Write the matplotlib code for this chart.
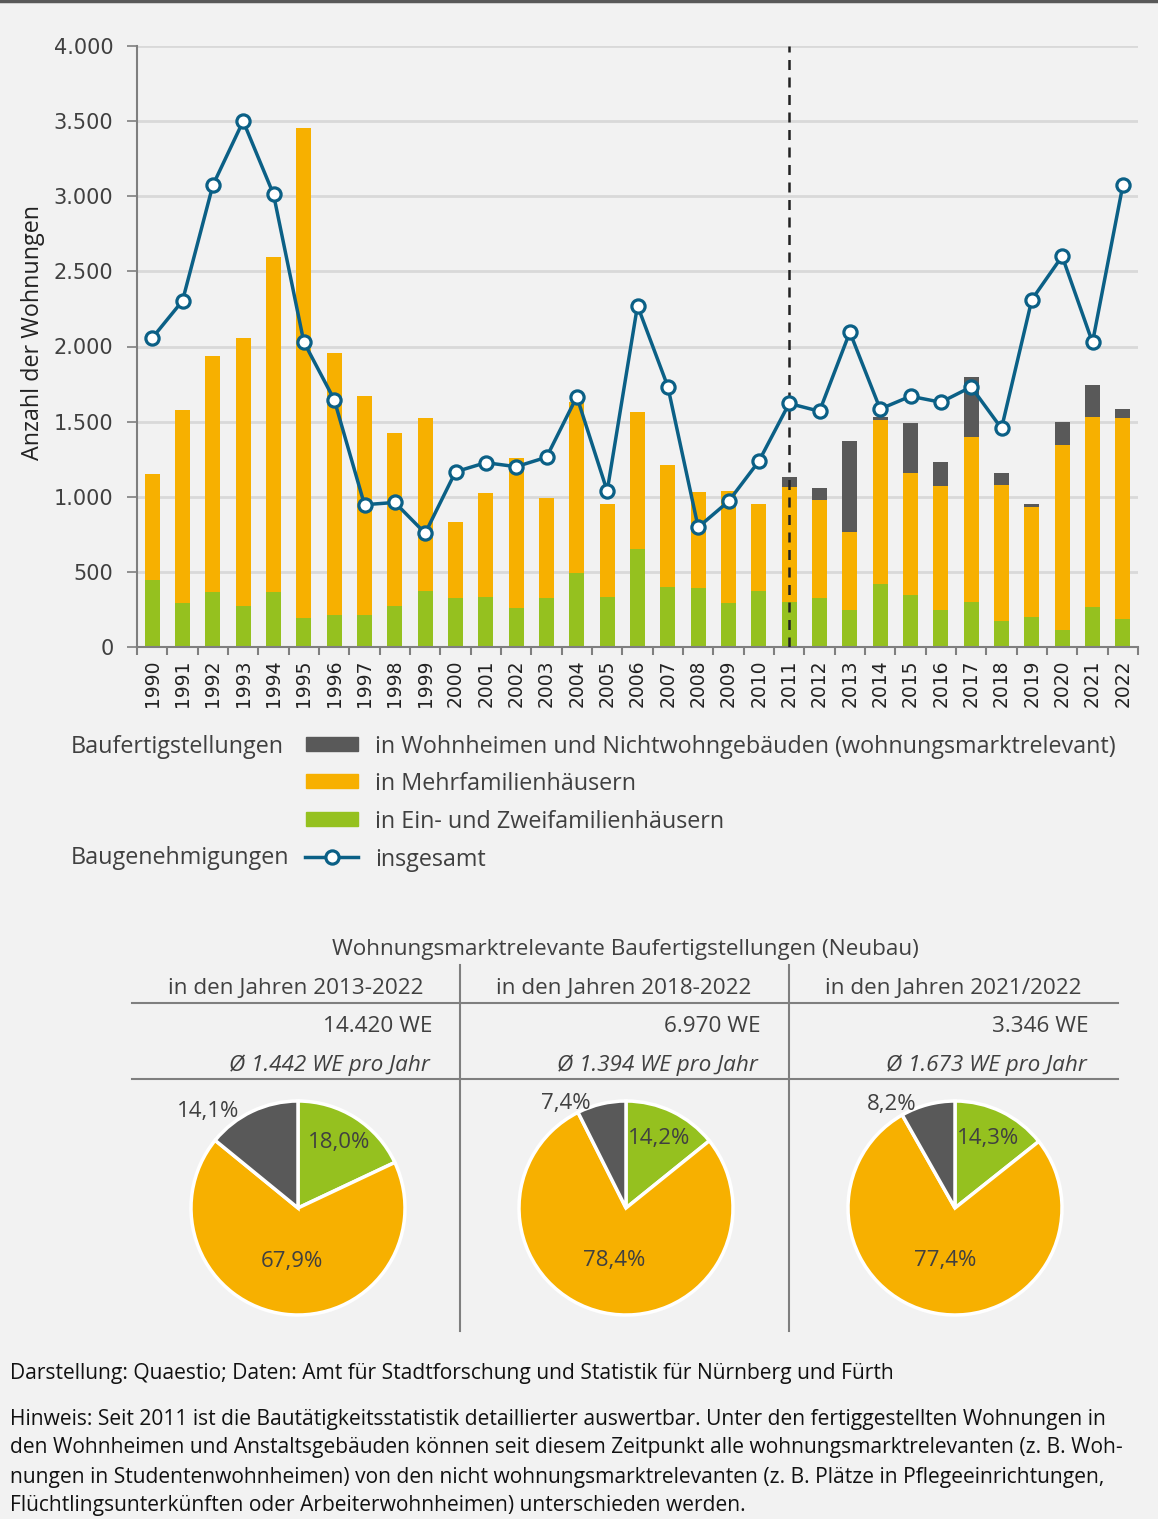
import matplotlib.pyplot as plt
from matplotlib.patches import Rectangle
from matplotlib.lines import Line2D
import numpy as np

plt.rcParams['font.family'] = ['Open Sans', 'DejaVu Sans']

# Daten
years = list(range(1990, 2023))
ein_zwei = [445, 290, 367, 271, 367, 195, 214, 214, 271, 376, 326, 336, 258, 327, 490, 336,
            655, 399, 390, 294, 372, 300, 325, 243, 421, 345, 243, 300, 171, 198, 113, 267, 189]
mehrfam = [707, 1290, 1570, 1788, 2227, 3256, 1742, 1457, 1155, 1145, 507, 686, 1002, 668, 1140, 617,
           906, 812, 641, 744, 581, 764, 652, 522, 1090, 812, 829, 1097, 910, 737, 1231, 1266, 1333]
wohnheime = [0] * 21 + [69, 78, 603, 22, 332, 161, 401, 74, 17, 153, 214, 62]
genehmigungen = [2056, 2304, 3073, 3500, 3013, 2030, 1647, 947, 962, 757, 1166, 1227, 1200, 1263, 1666, 1038,
                 2272, 1733, 797, 969, 1236, 1621, 1569, 2096, 1584, 1669, 1629, 1731, 1455, 2312, 2601, 2027, 3073]

legend_labels = ['in Wohnheimen und Nichtwohngebäuden (wohnungsmarktrelevant)',
                 'in Mehrfamilienhäusern', 'in Ein- und Zweifamilienhäusern', 'insgesamt']

pie_headers = ['in den Jahren 2013-2022', 'in den Jahren 2018-2022', 'in den Jahren 2021/2022']
pie_totals = ['14.420 WE', '6.970 WE', '3.346 WE']
pie_avgs = ['Ø 1.442 WE pro Jahr', 'Ø 1.394 WE pro Jahr', 'Ø 1.673 WE pro Jahr']
pie_green = [18.0, 14.2, 14.3]
pie_orange = [67.9, 78.4, 77.4]
pie_dark = [14.1, 7.4, 8.2]

footer = ['Darstellung: Quaestio; Daten: Amt für Stadtforschung und Statistik für Nürnberg und Fürth',
          'Hinweis: Seit 2011 ist die Bautätigkeitsstatistik detaillierter auswertbar. Unter den fertiggestellten Wohnungen in',
          'den Wohnheimen und Anstaltsgebäuden können seit diesem Zeitpunkt alle wohnungsmarktrelevanten (z. B. Woh-',
          'nungen in Studentenwohnheimen) von den nicht wohnungsmarktrelevanten (z. B. Plätze in Pflegeeinrichtungen,',
          'Flüchtlingsunterkünften oder Arbeiterwohnheimen) unterschieden werden.']

GREEN = '#95c11f'
ORANGE = '#f7b000'
DARK = '#595959'
BLUE = '#0b6086'
BG = '#f2f2f2'
TXT = '#404040'

W, H = 1158, 1519


def fx(px):
    return px / W


def fy(py):
    return 1 - py / H


fig = plt.figure(figsize=(W / 100, H / 100), dpi=100, facecolor=BG)
fig.add_artist(Line2D([0, 1], [fy(1), fy(1)], color=DARK, lw=2.5, transform=fig.transFigure))

# Hauptdiagramm
ax = fig.add_axes([fx(137), fy(647), fx(1138) - fx(137), fy(46) - fy(647)])
ax.set_facecolor(BG)
bottom2 = np.array(ein_zwei) + np.array(mehrfam)
ax.bar(years, ein_zwei, width=0.5, color=GREEN, zorder=2)
ax.bar(years, mehrfam, width=0.5, bottom=ein_zwei, color=ORANGE, zorder=2)
ax.bar(years, wohnheime, width=0.5, bottom=bottom2, color=DARK, zorder=2)
ax.axvline(2011, color='#222222', lw=1.8, ls=(0, (4, 3)), zorder=3)
ax.plot(years, genehmigungen, color=BLUE, lw=2.5, marker='o', markersize=9.5,
        markerfacecolor='white', markeredgecolor=BLUE, markeredgewidth=2.3, zorder=4)

ax.set_xlim(1989.5, 2022.5)
ax.set_ylim(0, 4000)
ax.set_yticks(range(0, 4001, 500))
ax.set_yticklabels([f'{v:,}'.replace(',', '.') for v in range(0, 4001, 500)],
                   fontsize=15, color=TXT, family='DejaVu Sans')
ax.set_xticks(years)
ax.set_xticklabels([str(y) for y in years], rotation=90, fontsize=13.5, color='#222222', family='DejaVu Sans')
ax.set_xticks(np.arange(1989.5, 2023, 1), minor=True)
ax.tick_params(axis='x', which='major', length=0, pad=9)
ax.tick_params(axis='x', which='minor', length=6, width=1.5, color='#7f7f7f')
ax.tick_params(axis='y', length=7, width=1.2, color='#7f7f7f', pad=10)
ax.grid(axis='y', color='#d9d9d9', lw=2, zorder=0)
ax.set_axisbelow(True)
for s in ['top', 'right']:
    ax.spines[s].set_visible(False)
for s in ['left', 'bottom']:
    ax.spines[s].set_color('#7f7f7f')
    ax.spines[s].set_linewidth(1.5)
ax.set_ylabel('Anzahl der Wohnungen', fontsize=16.8, color='#222222', va='center')
ax.yaxis.set_label_coords(-0.104, 0.524)

# Legende
fs_leg = 16.8
rows = [747, 784, 822, 860]
fig.text(fx(71), fy(rows[0]), 'Baufertigstellungen', fontsize=fs_leg, color=TXT, va='center')
fig.text(fx(71), fy(rows[3] - 2), 'Baugenehmigungen', fontsize=fs_leg, color=TXT, va='center')
for i, c in enumerate([DARK, ORANGE, GREEN]):
    yc = [744, 781, 819][i]
    fig.add_artist(Rectangle((fx(306), fy(yc + 7)), fx(358) - fx(306), fy(yc - 7) - fy(yc + 7),
                             color=c, transform=fig.transFigure))
fig.add_artist(Line2D([fx(305), fx(358)], [fy(857), fy(857)], color=BLUE, lw=2.5,
                      transform=fig.transFigure))
fig.add_artist(Line2D([fx(331.5)], [fy(857)], color=BLUE, marker='o', markersize=9.5, markerfacecolor='white',
                      markeredgewidth=2.3, transform=fig.transFigure))
for i, lab in enumerate(legend_labels):
    fig.text(fx(375), fy(rows[i]), lab, fontsize=fs_leg, color=TXT, va='center')

# Tabelle
fs_tab = 16.2
fig.text(fx(625), fy(950), 'Wohnungsmarktrelevante Baufertigstellungen (Neubau)', fontsize=fs_tab,
         color=TXT, ha='center', va='center')
for yy in [1003, 1079]:
    fig.add_artist(Line2D([fx(132), fx(1118)], [fy(yy), fy(yy)], color='#7f7f7f', lw=1.5,
                          transform=fig.transFigure))
for xx in [460, 789]:
    fig.add_artist(Line2D([fx(xx), fx(xx)], [fy(965), fy(1331)], color='#7f7f7f', lw=1.5,
                          transform=fig.transFigure))
col_left = [132, 460, 789]
for i in range(3):
    x0 = col_left[i]
    fig.text(fx(x0 + 164), fy(989), pie_headers[i], fontsize=fs_tab, color=TXT, ha='center', va='center')
    fig.text(fx(x0 + 300), fy(1027), pie_totals[i], fontsize=fs_tab, color=TXT, ha='right', va='center')
    fig.text(fx(x0 + 298), fy(1065), pie_avgs[i], fontsize=fs_tab, color=TXT, ha='right', va='center',
             style='italic')

    cx, cy, r = x0 + 166, 1208, 107
    pax = fig.add_axes([fx(cx - r), fy(cy + r), fx(2 * r), fy(0) - fy(2 * r)])
    vals = [pie_green[i], pie_orange[i], pie_dark[i]]
    wedges, _ = pax.pie(vals, colors=[GREEN, ORANGE, DARK], startangle=90, counterclock=False, radius=1,
                        wedgeprops=dict(edgecolor='white', linewidth=2.5))
    pax.set_xlim(-1, 1)
    pax.set_ylim(-1, 1)
    for j, w in enumerate(wedges):
        ang = np.deg2rad((w.theta1 + w.theta2) / 2)
        lab = f'{vals[j]:.1f}%'.replace('.', ',')
        if j == 2:
            pax.text(1.1 * np.cos(ang) - 0.08, 1.0 * np.sin(ang), lab, ha='right', va='center',
                     fontsize=16, color=TXT)
        else:
            rr = 0.72 if j == 0 else 0.5
            pax.text(rr * np.cos(ang), rr * np.sin(ang), lab, ha='center', va='center',
                     fontsize=16, color=TXT)

# Fußnoten
fig.text(fx(10), fy(1373), footer[0], fontsize=15.1, color='#111111', va='center')
for k, line in enumerate(footer[1:]):
    fig.text(fx(10), fy(1419 + 29 * k), line, fontsize=15.1, color='#111111', va='center')

fig.savefig('out.png', dpi=100, facecolor=BG)
